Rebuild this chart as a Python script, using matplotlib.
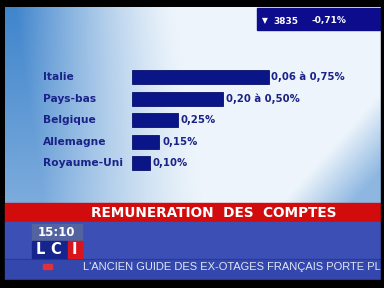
import numpy as np
import matplotlib
matplotlib.use("Agg")
import matplotlib.pyplot as plt
from matplotlib.patches import Rectangle
import matplotlib.transforms as mtransforms

# ---- data ----
countries = ["Italie", "Pays-bas", "Belgique", "Allemagne", "Royaume-Uni"]
rates = [0.75, 0.50, 0.25, 0.15, 0.10]
rate_labels = ["0,06 à 0,75%", "0,20 à 0,50%", "0,25%", "0,15%", "0,10%"]
title = "REMUNERATION  DES  COMPTES"
index_value = "3835"
index_change = "-0,71%"
clock = "15:10"
ticker = "L'ANCIEN GUIDE DES EX-OTAGES FRANÇAIS PORTE PL"

W, H = 384, 288
fig = plt.figure(figsize=(W / 100, H / 100), dpi=100)
fig.patch.set_facecolor("black")

bg = fig.add_axes([0, 0, 1, 1])
bg.set_xlim(0, W)
bg.set_ylim(H, 0)
bg.axis("off")
bg.set_facecolor("black")
bg.add_patch(Rectangle((0, 0), W, H, color="black", zorder=0))

# sky gradient
x0, x1, y0, y1 = 5, 381, 7, 203
xs = np.arange(x0, x1) + 0.5
ys = np.arange(y0, y1) + 0.5
X, Y = np.meshgrid(xs, ys)
b_left = np.clip(1 - (X - 15 - 0.15 * (Y - 7)) / 160.0, 0, 1) ** 1.3 * (1 - 0.35 * (Y - 7) / 196)
b_right = np.clip((X + 0.9 * Y - 465) / 70.0, 0, 1) * 0.55
b = np.clip(b_left + b_right, 0, 1)
blue = np.array([0.25, 0.52, 0.80])
white = np.array([0.93, 0.96, 0.985])
img = white[None, None, :] * (1 - b[..., None]) + blue[None, None, :] * b[..., None]
bg.imshow(img, extent=(x0, x1, y1, y0), aspect="auto", zorder=1, interpolation="bilinear")

# top-right index box
bg.add_patch(Rectangle((257, 8), 124, 22, color="#0c0c8c", zorder=2))
bg.text(262, 21, "▼", color="white", fontsize=5.5, ha="left", va="center", zorder=3)
bg.text(273, 21, index_value, color="white", fontsize=6.5, fontweight="bold",
        ha="left", va="center", zorder=3)
bg.text(312, 21, index_change, color="white", fontsize=6.5, fontweight="bold",
        ha="left", va="center", zorder=3)

# red title band
bg.add_patch(Rectangle((5, 203), 376, 19, color="#d20c0c", zorder=2))
bg.text(214, 213, title, color="white", fontsize=9.8, fontweight="bold",
        ha="center", va="center", zorder=3)

# blue bottom band
bg.add_patch(Rectangle((5, 222), 376, 37, color="#3c4fb4", zorder=2))
bg.add_patch(Rectangle((5, 259), 376, 21, color="#3347ad", zorder=2))
bg.plot([5, 381], [259, 259], color="#2a3a96", lw=0.8, zorder=2.5)

# clock & logo
bg.add_patch(Rectangle((32, 224), 50, 17, color="#53639f", zorder=3))
bg.text(56, 233, clock, color="white", fontsize=8.5, fontweight="bold",
        ha="center", va="center", zorder=4)
bg.add_patch(Rectangle((32, 241), 36, 17, color="#16248e", zorder=3))
bg.add_patch(Rectangle((68, 241), 14, 17, color="#d8141c", zorder=3))
for lx, ch in [(40, "L"), (56, "C"), (74, "I")]:
    bg.text(lx, 250, ch, color="white", fontsize=10.5, fontweight="black",
            ha="center", va="center", zorder=4)

# ticker
bg.add_patch(Rectangle((43, 264), 9, 5, color="#e0303a", zorder=3))
bg.text(83, 267, ticker, color="#e2e6f2", fontsize=8, family="Liberation Sans",
        ha="left", va="center", zorder=3)

# right black border
bg.add_patch(Rectangle((381, 0), 3, H, color="black", zorder=5))
bg.add_patch(Rectangle((0, 280), W, 8, color="black", zorder=5))

# ---- bar chart ----
left_px, right_px = 132, 332
top_px, bot_px = 66.5, 174.0
ax = fig.add_axes([left_px / W, 1 - bot_px / H, (right_px - left_px) / W, (bot_px - top_px) / H])
ax.set_facecolor("none")
ax.patch.set_alpha(0)
for s in ax.spines.values():
    s.set_visible(False)
ax.set_xticks([])
ax.set_yticks([])
ypos = np.arange(len(countries))
ax.barh(ypos, rates, height=0.63, color="#0a1688", edgecolor="#08106a", linewidth=0.6)
ax.set_xlim(0, (right_px - left_px) / 182.0)
ax.set_ylim(len(countries) - 0.5, -0.5)

navy = "#1a2288"
for i, (v, lab) in enumerate(zip(rates, rate_labels)):
    ax.annotate(lab, (v, i), xytext=(2, 0), textcoords="offset points",
                ha="left", va="center", color=navy, fontsize=7.3, fontweight="bold")

trans = mtransforms.blended_transform_factory(bg.transData, ax.transData)
for i, name in enumerate(countries):
    ax.text(43, i, name, transform=trans, ha="left", va="center",
            color=navy, fontsize=7.7, fontweight="bold")

fig.savefig("out.png", dpi=100, facecolor="black")
